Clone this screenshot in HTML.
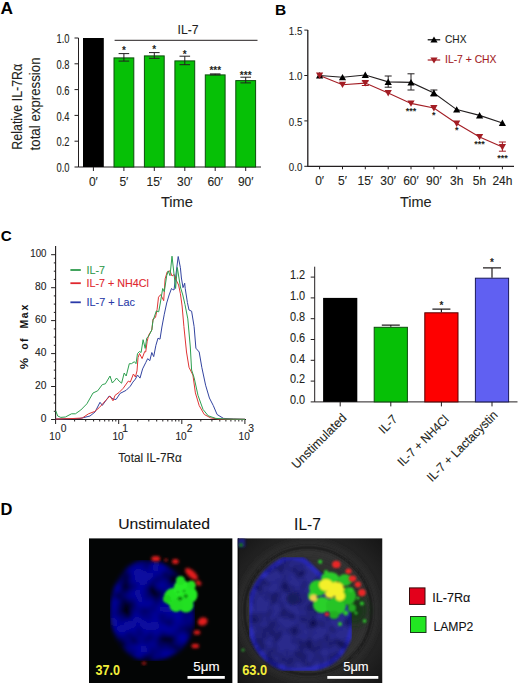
<!DOCTYPE html>
<html><head><meta charset="utf-8"><style>html,body{margin:0;padding:0;background:#fff;}svg{display:block;}</style></head>
<body>
<svg width="520" height="685" viewBox="0 0 520 685" font-family='"Liberation Sans", sans-serif'>
<rect width="520" height="685" fill="#fff"/>
<text x="0.5" y="14.2" font-size="17.3" text-anchor="start" fill="#000" font-weight="bold" >A</text>
<path d="M78.5 38.0V167.0H261" stroke="#231f20" stroke-width="1" fill="none"/>
<path d="M74.5 167.0H78.5" stroke="#231f20" stroke-width="1"/>
<text x="69.5" y="172.1" font-size="12.6" text-anchor="end" fill="#231f20" font-weight="normal" textLength="13" lengthAdjust="spacingAndGlyphs" stroke="#231f20" stroke-width="0.1" >0.0</text>
<path d="M74.5 141.2H78.5" stroke="#231f20" stroke-width="1"/>
<text x="69.5" y="146.29999999999998" font-size="12.6" text-anchor="end" fill="#231f20" font-weight="normal" textLength="13" lengthAdjust="spacingAndGlyphs" stroke="#231f20" stroke-width="0.1" >0.2</text>
<path d="M74.5 115.4H78.5" stroke="#231f20" stroke-width="1"/>
<text x="69.5" y="120.5" font-size="12.6" text-anchor="end" fill="#231f20" font-weight="normal" textLength="13" lengthAdjust="spacingAndGlyphs" stroke="#231f20" stroke-width="0.1" >0.4</text>
<path d="M74.5 89.6H78.5" stroke="#231f20" stroke-width="1"/>
<text x="69.5" y="94.69999999999999" font-size="12.6" text-anchor="end" fill="#231f20" font-weight="normal" textLength="13" lengthAdjust="spacingAndGlyphs" stroke="#231f20" stroke-width="0.1" >0.6</text>
<path d="M74.5 63.8H78.5" stroke="#231f20" stroke-width="1"/>
<text x="69.5" y="68.89999999999999" font-size="12.6" text-anchor="end" fill="#231f20" font-weight="normal" textLength="13" lengthAdjust="spacingAndGlyphs" stroke="#231f20" stroke-width="0.1" >0.8</text>
<path d="M74.5 38.0H78.5" stroke="#231f20" stroke-width="1"/>
<text x="69.5" y="43.1" font-size="12.6" text-anchor="end" fill="#231f20" font-weight="normal" textLength="13" lengthAdjust="spacingAndGlyphs" stroke="#231f20" stroke-width="0.1" >1.0</text>
<rect x="83.0" y="38.0" width="20.8" height="129.0" fill="#000"/>
<path d="M93.4 167.0V171.0" stroke="#231f20" stroke-width="1"/>
<text x="93.4" y="186" font-size="12" text-anchor="middle" fill="#231f20" font-weight="normal" stroke="#231f20" stroke-width="0.1" >0′</text>
<rect x="114.0" y="57.9" width="19.8" height="109.1" fill="#06c006" stroke="#0d4d0d" stroke-width="1"/>
<path d="M118.6 53.6H129.2M123.9 53.6V61.1M118.6 61.1H129.2" stroke="#231f20" stroke-width="1" fill="none"/>
<text x="123.86000000000001" y="53.9" font-size="10" text-anchor="middle" fill="#231f20" font-weight="bold" >*</text>
<path d="M123.9 167.0V171.0" stroke="#231f20" stroke-width="1"/>
<text x="123.86000000000001" y="186" font-size="12" text-anchor="middle" fill="#231f20" font-weight="normal" stroke="#231f20" stroke-width="0.1" >5′</text>
<rect x="144.4" y="55.9" width="19.8" height="111.1" fill="#06c006" stroke="#0d4d0d" stroke-width="1"/>
<path d="M149.0 52.6H159.6M154.3 52.6V58.3M149.0 58.3H159.6" stroke="#231f20" stroke-width="1" fill="none"/>
<text x="154.32" y="53.0" font-size="10" text-anchor="middle" fill="#231f20" font-weight="bold" >*</text>
<path d="M154.3 167.0V171.0" stroke="#231f20" stroke-width="1"/>
<text x="154.32" y="186" font-size="12" text-anchor="middle" fill="#231f20" font-weight="normal" stroke="#231f20" stroke-width="0.1" >15′</text>
<rect x="174.9" y="60.9" width="19.8" height="106.1" fill="#06c006" stroke="#0d4d0d" stroke-width="1"/>
<path d="M179.5 56.2H190.1M184.8 56.2V64.7M179.5 64.7H190.1" stroke="#231f20" stroke-width="1" fill="none"/>
<text x="184.78" y="58.1" font-size="10" text-anchor="middle" fill="#231f20" font-weight="bold" >*</text>
<path d="M184.8 167.0V171.0" stroke="#231f20" stroke-width="1"/>
<text x="184.78" y="186" font-size="12" text-anchor="middle" fill="#231f20" font-weight="normal" stroke="#231f20" stroke-width="0.1" >30′</text>
<rect x="205.3" y="74.9" width="19.8" height="92.1" fill="#06c006" stroke="#0d4d0d" stroke-width="1"/>
<path d="M209.9 73.9H220.5M215.2 73.9V74.9M209.9 74.9H220.5" stroke="#231f20" stroke-width="1" fill="none"/>
<text x="215.24" y="73.89999999999999" font-size="10" text-anchor="middle" fill="#231f20" font-weight="bold" >***</text>
<path d="M215.2 167.0V171.0" stroke="#231f20" stroke-width="1"/>
<text x="215.24" y="186" font-size="12" text-anchor="middle" fill="#231f20" font-weight="normal" stroke="#231f20" stroke-width="0.1" >60′</text>
<rect x="235.8" y="80.6" width="19.8" height="86.4" fill="#06c006" stroke="#0d4d0d" stroke-width="1"/>
<path d="M240.4 77.2H251.0M245.7 77.2V82.9M240.4 82.9H251.0" stroke="#231f20" stroke-width="1" fill="none"/>
<text x="245.70000000000002" y="79.1" font-size="10" text-anchor="middle" fill="#231f20" font-weight="bold" >***</text>
<path d="M245.7 167.0V171.0" stroke="#231f20" stroke-width="1"/>
<text x="245.70000000000002" y="186" font-size="12" text-anchor="middle" fill="#231f20" font-weight="normal" stroke="#231f20" stroke-width="0.1" >90′</text>
<path d="M114.6 40.3H257.5" stroke="#231f20" stroke-width="1"/>
<text x="188" y="33.5" font-size="13" text-anchor="middle" fill="#231f20" font-weight="normal" textLength="21" lengthAdjust="spacingAndGlyphs" stroke="#231f20" stroke-width="0.1" >IL-7</text>
<text x="176.9" y="206.6" font-size="15.3" text-anchor="middle" fill="#231f20" font-weight="normal" textLength="32" lengthAdjust="spacingAndGlyphs" stroke="#231f20" stroke-width="0.1" >Time</text>
<text transform="translate(21.9,106.7) rotate(-90)" font-size="13.8" text-anchor="middle" fill="#231f20" stroke="#231f20" stroke-width="0.1" textLength="86" lengthAdjust="spacingAndGlyphs">Relative IL-7R&#945;</text>
<text transform="translate(39.7,103.9) rotate(-90)" font-size="13.8" text-anchor="middle" fill="#231f20" stroke="#231f20" stroke-width="0.1" textLength="93" lengthAdjust="spacingAndGlyphs">total expression</text>
<text x="275" y="15" font-size="15.5" text-anchor="start" fill="#000" font-weight="bold" >B</text>
<path d="M307.8 30.1V166.3H514" stroke="#231f20" stroke-width="1.3" fill="none"/>
<path d="M304.3 166.3H307.8" stroke="#231f20" stroke-width="1"/>
<text x="302.3" y="171.10000000000002" font-size="10.3" text-anchor="end" fill="#231f20" font-weight="normal" textLength="13.5" lengthAdjust="spacingAndGlyphs" stroke="#231f20" stroke-width="0.1" >0.0</text>
<path d="M304.3 120.9H307.8" stroke="#231f20" stroke-width="1"/>
<text x="302.3" y="125.7" font-size="10.3" text-anchor="end" fill="#231f20" font-weight="normal" textLength="13.5" lengthAdjust="spacingAndGlyphs" stroke="#231f20" stroke-width="0.1" >0.5</text>
<path d="M304.3 75.5H307.8" stroke="#231f20" stroke-width="1"/>
<text x="302.3" y="80.30000000000001" font-size="10.3" text-anchor="end" fill="#231f20" font-weight="normal" textLength="13.5" lengthAdjust="spacingAndGlyphs" stroke="#231f20" stroke-width="0.1" >1.0</text>
<path d="M304.3 30.1H307.8" stroke="#231f20" stroke-width="1"/>
<text x="302.3" y="34.90000000000002" font-size="10.3" text-anchor="end" fill="#231f20" font-weight="normal" textLength="13.5" lengthAdjust="spacingAndGlyphs" stroke="#231f20" stroke-width="0.1" >1.5</text>
<path d="M319.6 166.3V169.3" stroke="#231f20" stroke-width="1"/>
<text x="319.6" y="184.6" font-size="12" text-anchor="middle" fill="#231f20" font-weight="normal" stroke="#231f20" stroke-width="0.1" >0′</text>
<path d="M342.5 166.3V169.3" stroke="#231f20" stroke-width="1"/>
<text x="342.45000000000005" y="184.6" font-size="12" text-anchor="middle" fill="#231f20" font-weight="normal" stroke="#231f20" stroke-width="0.1" >5′</text>
<path d="M365.3 166.3V169.3" stroke="#231f20" stroke-width="1"/>
<text x="365.3" y="184.6" font-size="12" text-anchor="middle" fill="#231f20" font-weight="normal" stroke="#231f20" stroke-width="0.1" >15′</text>
<path d="M388.2 166.3V169.3" stroke="#231f20" stroke-width="1"/>
<text x="388.15000000000003" y="184.6" font-size="12" text-anchor="middle" fill="#231f20" font-weight="normal" stroke="#231f20" stroke-width="0.1" >30′</text>
<path d="M411.0 166.3V169.3" stroke="#231f20" stroke-width="1"/>
<text x="411.0" y="184.6" font-size="12" text-anchor="middle" fill="#231f20" font-weight="normal" stroke="#231f20" stroke-width="0.1" >60′</text>
<path d="M433.9 166.3V169.3" stroke="#231f20" stroke-width="1"/>
<text x="433.85" y="184.6" font-size="12" text-anchor="middle" fill="#231f20" font-weight="normal" stroke="#231f20" stroke-width="0.1" >90′</text>
<path d="M456.7 166.3V169.3" stroke="#231f20" stroke-width="1"/>
<text x="456.70000000000005" y="184.6" font-size="12" text-anchor="middle" fill="#231f20" font-weight="normal" stroke="#231f20" stroke-width="0.1" >3h</text>
<path d="M479.6 166.3V169.3" stroke="#231f20" stroke-width="1"/>
<text x="479.55000000000007" y="184.6" font-size="12" text-anchor="middle" fill="#231f20" font-weight="normal" stroke="#231f20" stroke-width="0.1" >5h</text>
<path d="M502.4 166.3V169.3" stroke="#231f20" stroke-width="1"/>
<text x="502.40000000000003" y="184.6" font-size="12" text-anchor="middle" fill="#231f20" font-weight="normal" stroke="#231f20" stroke-width="0.1" >24h</text>
<text x="415.8" y="206.6" font-size="15.3" text-anchor="middle" fill="#231f20" font-weight="normal" textLength="31.6" lengthAdjust="spacingAndGlyphs" stroke="#231f20" stroke-width="0.1" >Time</text>
<path d="M384.7 76.0H391.7M388.2 76.0V87.2M384.7 87.2H391.7" stroke="#231f20" stroke-width="1" fill="none"/>
<path d="M407.5 73.8H414.5M411.0 73.8V90.0M407.5 90.0H414.5" stroke="#231f20" stroke-width="1" fill="none"/>
<path d="M430.4 90.0H437.4M433.9 90.0V96.0M430.4 96.0H437.4" stroke="#231f20" stroke-width="1" fill="none"/>
<path d="M361.8 80.9H368.8M365.3 80.9V85.5M361.8 85.5H368.8" stroke="#a31d24" stroke-width="1" fill="none"/>
<path d="M498.9 142.0H505.9M502.4 142.0V151.2M498.9 151.2H505.9" stroke="#a31d24" stroke-width="1" fill="none"/>
<polyline points="319.6,75.5 342.5,77.3 365.3,75.0 388.2,81.9 411.0,82.4 433.9,93.0 456.7,109.6 479.6,115.4 502.4,123.0" fill="none" stroke="#231f20" stroke-width="1.1"/>
<polyline points="319.6,75.5 342.5,84.7 365.3,83.1 388.2,93.0 411.0,103.4 433.9,108.0 456.7,123.5 479.6,136.9 502.4,147.0" fill="none" stroke="#a31d24" stroke-width="1.1"/>
<path d="M316.0 78.5L319.6 72.1L323.2 78.5Z" fill="#000"/>
<path d="M338.9 80.3L342.5 73.9L346.1 80.3Z" fill="#000"/>
<path d="M361.7 78.0L365.3 71.6L368.9 78.0Z" fill="#000"/>
<path d="M384.6 84.9L388.2 78.5L391.8 84.9Z" fill="#000"/>
<path d="M407.4 85.4L411.0 79.0L414.6 85.4Z" fill="#000"/>
<path d="M430.2 96.0L433.9 89.6L437.5 96.0Z" fill="#000"/>
<path d="M453.1 112.6L456.7 106.2L460.3 112.6Z" fill="#000"/>
<path d="M476.0 118.4L479.6 112.0L483.2 118.4Z" fill="#000"/>
<path d="M498.8 126.0L502.4 119.6L506.0 126.0Z" fill="#000"/>
<path d="M316.0 72.5L319.6 78.9L323.2 72.5Z" fill="#a31d24"/>
<path d="M338.9 81.7L342.5 88.1L346.1 81.7Z" fill="#a31d24"/>
<path d="M361.7 80.1L365.3 86.5L368.9 80.1Z" fill="#a31d24"/>
<path d="M384.6 90.0L388.2 96.4L391.8 90.0Z" fill="#a31d24"/>
<path d="M407.4 100.4L411.0 106.8L414.6 100.4Z" fill="#a31d24"/>
<path d="M430.2 105.0L433.9 111.4L437.5 105.0Z" fill="#a31d24"/>
<path d="M453.1 120.5L456.7 126.9L460.3 120.5Z" fill="#a31d24"/>
<path d="M476.0 133.9L479.6 140.3L483.2 133.9Z" fill="#a31d24"/>
<path d="M498.8 144.0L502.4 150.4L506.0 144.0Z" fill="#a31d24"/>
<text x="411.0" y="113.6" font-size="9" text-anchor="middle" fill="#231f20" font-weight="bold" >***</text>
<text x="433.85" y="117.5" font-size="9" text-anchor="middle" fill="#231f20" font-weight="bold" >*</text>
<text x="456.70000000000005" y="133" font-size="9" text-anchor="middle" fill="#231f20" font-weight="bold" >*</text>
<text x="479.55000000000007" y="147" font-size="9" text-anchor="middle" fill="#231f20" font-weight="bold" >***</text>
<text x="502.40000000000003" y="161" font-size="9" text-anchor="middle" fill="#231f20" font-weight="bold" >***</text>
<path d="M427.7 39.8H440.2" stroke="#000" stroke-width="1.2"/>
<path d="M430.4 42.5L434 36.4L437.6 42.5Z" fill="#000"/>
<text x="445" y="43" font-size="11" text-anchor="start" fill="#231f20" font-weight="normal" textLength="21.5" lengthAdjust="spacingAndGlyphs" stroke="#231f20" stroke-width="0.1" >CHX</text>
<path d="M427.7 60H440.2" stroke="#a31d24" stroke-width="1.2"/>
<path d="M430.4 57.5L434 63.6L437.6 57.5Z" fill="#a31d24"/>
<text x="445" y="63.3" font-size="11" text-anchor="start" fill="#a31d24" font-weight="normal" textLength="51.5" lengthAdjust="spacingAndGlyphs" stroke="#a31d24" stroke-width="0.1" >IL-7 + CHX</text>
<text x="0.8" y="241.2" font-size="15.2" text-anchor="start" fill="#000" font-weight="bold" >C</text>
<path d="M55.6 246V419.5H246" stroke="#231f20" stroke-width="1.1" fill="none"/>
<path d="M51.1 419.5H55.6" stroke="#231f20" stroke-width="1"/>
<text x="46.5" y="421.5" font-size="10.5" text-anchor="end" fill="#222" font-weight="normal" textLength="5.7" lengthAdjust="spacingAndGlyphs" stroke="#222" stroke-width="0.1" >0</text>
<path d="M53.800000000000004 411.3H55.6" stroke="#231f20" stroke-width="1"/>
<path d="M53.800000000000004 403.0H55.6" stroke="#231f20" stroke-width="1"/>
<path d="M53.800000000000004 394.8H55.6" stroke="#231f20" stroke-width="1"/>
<path d="M51.1 386.5H55.6" stroke="#231f20" stroke-width="1"/>
<text x="46.5" y="388.54" font-size="10.5" text-anchor="end" fill="#222" font-weight="normal" textLength="11.4" lengthAdjust="spacingAndGlyphs" stroke="#222" stroke-width="0.1" >20</text>
<path d="M53.800000000000004 378.3H55.6" stroke="#231f20" stroke-width="1"/>
<path d="M53.800000000000004 370.1H55.6" stroke="#231f20" stroke-width="1"/>
<path d="M53.800000000000004 361.8H55.6" stroke="#231f20" stroke-width="1"/>
<path d="M51.1 353.6H55.6" stroke="#231f20" stroke-width="1"/>
<text x="46.5" y="355.58" font-size="10.5" text-anchor="end" fill="#222" font-weight="normal" textLength="11.4" lengthAdjust="spacingAndGlyphs" stroke="#222" stroke-width="0.1" >40</text>
<path d="M53.800000000000004 345.3H55.6" stroke="#231f20" stroke-width="1"/>
<path d="M53.800000000000004 337.1H55.6" stroke="#231f20" stroke-width="1"/>
<path d="M53.800000000000004 328.9H55.6" stroke="#231f20" stroke-width="1"/>
<path d="M51.1 320.6H55.6" stroke="#231f20" stroke-width="1"/>
<text x="46.5" y="322.62" font-size="10.5" text-anchor="end" fill="#222" font-weight="normal" textLength="11.4" lengthAdjust="spacingAndGlyphs" stroke="#222" stroke-width="0.1" >60</text>
<path d="M53.800000000000004 312.4H55.6" stroke="#231f20" stroke-width="1"/>
<path d="M53.800000000000004 304.1H55.6" stroke="#231f20" stroke-width="1"/>
<path d="M53.800000000000004 295.9H55.6" stroke="#231f20" stroke-width="1"/>
<path d="M51.1 287.7H55.6" stroke="#231f20" stroke-width="1"/>
<text x="46.5" y="289.65999999999997" font-size="10.5" text-anchor="end" fill="#222" font-weight="normal" textLength="11.4" lengthAdjust="spacingAndGlyphs" stroke="#222" stroke-width="0.1" >80</text>
<path d="M53.800000000000004 279.4H55.6" stroke="#231f20" stroke-width="1"/>
<path d="M53.800000000000004 271.2H55.6" stroke="#231f20" stroke-width="1"/>
<path d="M53.800000000000004 262.9H55.6" stroke="#231f20" stroke-width="1"/>
<path d="M51.1 254.7H55.6" stroke="#231f20" stroke-width="1"/>
<text x="46.5" y="256.70000000000005" font-size="10.5" text-anchor="end" fill="#222" font-weight="normal" textLength="16.2" lengthAdjust="spacingAndGlyphs" stroke="#222" stroke-width="0.1" >100</text>
<path d="M55.6 419.5V424.0" stroke="#231f20" stroke-width="1"/>
<path d="M74.6 419.5V421.5" stroke="#231f20" stroke-width="1"/>
<path d="M85.7 419.5V421.5" stroke="#231f20" stroke-width="1"/>
<path d="M93.6 419.5V421.5" stroke="#231f20" stroke-width="1"/>
<path d="M99.7 419.5V421.5" stroke="#231f20" stroke-width="1"/>
<path d="M104.7 419.5V421.5" stroke="#231f20" stroke-width="1"/>
<path d="M108.9 419.5V421.5" stroke="#231f20" stroke-width="1"/>
<path d="M112.6 419.5V421.5" stroke="#231f20" stroke-width="1"/>
<path d="M115.8 419.5V421.5" stroke="#231f20" stroke-width="1"/>
<path d="M118.7 419.5V424.0" stroke="#231f20" stroke-width="1"/>
<path d="M137.7 419.5V421.5" stroke="#231f20" stroke-width="1"/>
<path d="M148.8 419.5V421.5" stroke="#231f20" stroke-width="1"/>
<path d="M156.7 419.5V421.5" stroke="#231f20" stroke-width="1"/>
<path d="M162.8 419.5V421.5" stroke="#231f20" stroke-width="1"/>
<path d="M167.8 419.5V421.5" stroke="#231f20" stroke-width="1"/>
<path d="M172.0 419.5V421.5" stroke="#231f20" stroke-width="1"/>
<path d="M175.7 419.5V421.5" stroke="#231f20" stroke-width="1"/>
<path d="M178.9 419.5V421.5" stroke="#231f20" stroke-width="1"/>
<path d="M181.8 419.5V424.0" stroke="#231f20" stroke-width="1"/>
<path d="M200.8 419.5V421.5" stroke="#231f20" stroke-width="1"/>
<path d="M211.9 419.5V421.5" stroke="#231f20" stroke-width="1"/>
<path d="M219.8 419.5V421.5" stroke="#231f20" stroke-width="1"/>
<path d="M225.9 419.5V421.5" stroke="#231f20" stroke-width="1"/>
<path d="M230.9 419.5V421.5" stroke="#231f20" stroke-width="1"/>
<path d="M235.1 419.5V421.5" stroke="#231f20" stroke-width="1"/>
<path d="M238.8 419.5V421.5" stroke="#231f20" stroke-width="1"/>
<path d="M242.0 419.5V421.5" stroke="#231f20" stroke-width="1"/>
<path d="M244.9 419.5V424.0" stroke="#231f20" stroke-width="1"/>
<text x="54.9" y="439.8" font-size="10.3" text-anchor="middle" fill="#222" font-weight="normal" textLength="11.2" lengthAdjust="spacingAndGlyphs" stroke="#222" stroke-width="0.1" >10</text>
<text x="60.7" y="431.6" font-size="10.3" text-anchor="start" fill="#222" font-weight="normal" stroke="#222" stroke-width="0.1" >0</text>
<text x="118.0" y="439.8" font-size="10.3" text-anchor="middle" fill="#222" font-weight="normal" textLength="11.2" lengthAdjust="spacingAndGlyphs" stroke="#222" stroke-width="0.1" >10</text>
<text x="122.3" y="431.6" font-size="10.3" text-anchor="start" fill="#222" font-weight="normal" stroke="#222" stroke-width="0.1" >1</text>
<text x="181.10000000000002" y="439.8" font-size="10.3" text-anchor="middle" fill="#222" font-weight="normal" textLength="11.2" lengthAdjust="spacingAndGlyphs" stroke="#222" stroke-width="0.1" >10</text>
<text x="186.8" y="431.6" font-size="10.3" text-anchor="start" fill="#222" font-weight="normal" stroke="#222" stroke-width="0.1" >2</text>
<text x="244.20000000000002" y="439.8" font-size="10.3" text-anchor="middle" fill="#222" font-weight="normal" textLength="11.2" lengthAdjust="spacingAndGlyphs" stroke="#222" stroke-width="0.1" >10</text>
<text x="248.3" y="431.6" font-size="10.3" text-anchor="start" fill="#222" font-weight="normal" stroke="#222" stroke-width="0.1" >3</text>
<text x="150" y="462.3" font-size="12" text-anchor="middle" fill="#231f20" font-weight="normal" textLength="63.5" lengthAdjust="spacingAndGlyphs" stroke="#231f20" stroke-width="0.1" >Total IL-7R&#945;</text>
<text transform="translate(28.4,369.1) rotate(-90)" font-size="10.5" font-weight="bold" fill="#111" textLength="11.1" lengthAdjust="spacingAndGlyphs">%</text>
<text transform="translate(28.4,349.7) rotate(-90)" font-size="10.5" font-weight="bold" fill="#111" textLength="11.1" lengthAdjust="spacing">of</text>
<text transform="translate(28.4,328.6) rotate(-90)" font-size="10.5" font-weight="bold" fill="#111" textLength="23.9" lengthAdjust="spacing">Max</text>
<path d="M70.4 270H80.8" stroke="#2e9a4c" stroke-width="1.8"/>
<text x="86.5" y="273.5" font-size="11" text-anchor="start" fill="#2e9a4c" font-weight="normal" textLength="18.5" lengthAdjust="spacingAndGlyphs" stroke="#2e9a4c" stroke-width="0.1" >IL-7</text>
<path d="M70.4 283.2H80.8" stroke="#e0272e" stroke-width="1.8"/>
<text x="86.5" y="286.7" font-size="11" text-anchor="start" fill="#e0272e" font-weight="normal" textLength="62.4" lengthAdjust="spacingAndGlyphs" stroke="#e0272e" stroke-width="0.1" >IL-7 + NH4Cl</text>
<path d="M70.4 302.3H80.8" stroke="#2a3aa8" stroke-width="1.8"/>
<text x="86.5" y="305.8" font-size="11" text-anchor="start" fill="#2a3aa8" font-weight="normal" textLength="48.5" lengthAdjust="spacingAndGlyphs" stroke="#2a3aa8" stroke-width="0.1" >IL-7 + Lac</text>
<polyline points="55.8,419 80,418.5 90,416 95,412 100,402.3 102.3,405.4 109.2,396 113,399 116,399.5 120.1,393.4 126.2,390.3 130.3,386.2 132.9,382.1 135.4,379.1 137.5,375 140,378.1 142.6,368.9 145.7,362.7 147.7,358.6 149.8,360.7 151.8,352.5 153.7,356.6 155.9,345.3 158,338.2 160,339.2 161.9,327 164.3,314.2 166.7,303 169.1,295 171.5,288.5 172.5,289.4 174,290 176,274 178.2,256.5 180.4,267.7 181.4,278 183,287.6 184.7,283.2 185.2,288.3 187.4,302.5 189,310 191.6,311.2 194.1,326.5 195.9,348.2 199.2,352 201.8,367.3 205.6,385.2 209.4,398 213.3,405.6 217.1,414.5 223.5,418.4 233.7,419 245,419.3" fill="none" stroke="#3344a0" stroke-width="1" stroke-linejoin="round"/>
<polyline points="55.8,419 73,418.5 82.3,418 88.5,413.8 94.6,411.5 99.2,407.7 105.4,400.8 110,396 113,400.8 115,395.4 119.1,392.4 123.2,388.3 128.3,381.1 130.3,382.1 133.4,374 135.4,377 137,370.9 138,357.6 139.5,353.5 142.1,358.6 144.7,351.5 145.7,352 147.2,341.2 148.7,335.1 151.8,330 153,319 155.5,317.4 157.1,309.4 158.5,297.2 160.7,294.6 163.7,300.7 165.1,278.9 167.2,271.9 170,270.9 172,276 174.2,274.5 176,279.7 178.6,285 180.4,293.7 182.1,306 183.9,326.5 186.5,352 189,367.3 192.9,375 195.4,392.9 199.2,405.6 204.3,414.5 210.7,417.9 218.4,419 245,419.3" fill="none" stroke="#e03535" stroke-width="1" stroke-linejoin="round"/>
<polyline points="55.8,411 57.7,416 60.8,417.4 65.4,417 71.5,413.8 75.4,413.8 80.8,410 86.9,403.8 93,393 97.7,390.8 102.3,384.6 105.4,383.8 110,376 112.3,383 115,380.1 116.5,378 119.1,381.1 121.6,383.2 124.2,373 126.2,376 129.3,363.7 131.4,363.7 134.4,361.7 136,363.7 137.5,353.5 139.5,351.5 141.1,352.5 143.1,339.7 145.2,348.4 146.7,338.2 148.7,336.1 151.8,330 153,320.6 156.3,311 158.7,311.8 160.3,303 162.7,288.5 164.3,291.7 166.7,275.7 168.3,270.9 170,275.7 172,256.2 174,274 175.6,288.5 177.3,267.5 178.5,275 180.4,287 182.8,295 185,304.6 187.8,318.9 190.3,347 191.6,370 194.1,377.6 198,395.4 203,409.4 208.2,415.8 215.8,418.4 226,419 245,419.3" fill="none" stroke="#2ea050" stroke-width="1" stroke-linejoin="round"/>
<path d="M314.7 266.7V401.9H517.5" stroke="#231f20" stroke-width="1" fill="none"/>
<path d="M310.7 401.9H314.7" stroke="#231f20" stroke-width="1"/>
<text x="305.2" y="404.2" font-size="12.6" text-anchor="end" fill="#231f20" font-weight="normal" textLength="15.2" lengthAdjust="spacingAndGlyphs" stroke="#231f20" stroke-width="0.1" >0.0</text>
<path d="M310.7 381.1H314.7" stroke="#231f20" stroke-width="1"/>
<text x="305.2" y="383.4" font-size="12.6" text-anchor="end" fill="#231f20" font-weight="normal" textLength="15.2" lengthAdjust="spacingAndGlyphs" stroke="#231f20" stroke-width="0.1" >0.2</text>
<path d="M310.7 360.3H314.7" stroke="#231f20" stroke-width="1"/>
<text x="305.2" y="362.59999999999997" font-size="12.6" text-anchor="end" fill="#231f20" font-weight="normal" textLength="15.2" lengthAdjust="spacingAndGlyphs" stroke="#231f20" stroke-width="0.1" >0.4</text>
<path d="M310.7 339.5H314.7" stroke="#231f20" stroke-width="1"/>
<text x="305.2" y="341.8" font-size="12.6" text-anchor="end" fill="#231f20" font-weight="normal" textLength="15.2" lengthAdjust="spacingAndGlyphs" stroke="#231f20" stroke-width="0.1" >0.6</text>
<path d="M310.7 318.7H314.7" stroke="#231f20" stroke-width="1"/>
<text x="305.2" y="321.0" font-size="12.6" text-anchor="end" fill="#231f20" font-weight="normal" textLength="15.2" lengthAdjust="spacingAndGlyphs" stroke="#231f20" stroke-width="0.1" >0.8</text>
<path d="M310.7 297.9H314.7" stroke="#231f20" stroke-width="1"/>
<text x="305.2" y="300.2" font-size="12.6" text-anchor="end" fill="#231f20" font-weight="normal" textLength="15.2" lengthAdjust="spacingAndGlyphs" stroke="#231f20" stroke-width="0.1" >1.0</text>
<path d="M310.7 277.1H314.7" stroke="#231f20" stroke-width="1"/>
<text x="305.2" y="279.4" font-size="12.6" text-anchor="end" fill="#231f20" font-weight="normal" textLength="15.2" lengthAdjust="spacingAndGlyphs" stroke="#231f20" stroke-width="0.1" >1.2</text>
<rect x="323.1" y="297.9" width="34.2" height="104.0" fill="#000"/>
<path d="M340.2 401.9V406.4" stroke="#231f20" stroke-width="1"/>
<text transform="translate(347.4,418.7) rotate(-45)" font-size="12.6" text-anchor="end" fill="#231f20" stroke="#231f20" stroke-width="0.1" textLength="71.8" lengthAdjust="spacingAndGlyphs">Unstimulated</text>
<rect x="374.2" y="327.3" width="33.2" height="74.6" fill="#06c006" stroke="#0d4d0d" stroke-width="1"/>
<path d="M381.8 325.1H399.8M390.8 325.1V326.8" stroke="#231f20" stroke-width="1.2" fill="none"/>
<path d="M390.8 401.9V406.4" stroke="#231f20" stroke-width="1"/>
<text transform="translate(398.3,420.1) rotate(-45)" font-size="12.6" text-anchor="end" fill="#231f20" stroke="#231f20" stroke-width="0.1" textLength="20.5" lengthAdjust="spacingAndGlyphs">IL-7</text>
<rect x="424.8" y="312.8" width="33.2" height="89.1" fill="#fe0000" stroke="#5a0000" stroke-width="1"/>
<path d="M432.4 309.2H450.4M441.4 309.2V312.3" stroke="#231f20" stroke-width="1.2" fill="none"/>
<text x="441.4" y="308.70000000000005" font-size="10" text-anchor="middle" fill="#231f20" font-weight="bold" >*</text>
<path d="M441.4 401.9V406.4" stroke="#231f20" stroke-width="1"/>
<text transform="translate(449.6,420.3) rotate(-45)" font-size="12.6" text-anchor="end" fill="#231f20" stroke="#231f20" stroke-width="0.1" textLength="66.2" lengthAdjust="spacingAndGlyphs">IL-7 + NH4Cl</text>
<rect x="475.4" y="278.2" width="33.2" height="123.7" fill="#6060f2" stroke="#1a1a5a" stroke-width="1"/>
<path d="M483.0 267.9H501.0M492.0 267.9V277.7" stroke="#231f20" stroke-width="1.2" fill="none"/>
<text x="492.0" y="266.3" font-size="10" text-anchor="middle" fill="#231f20" font-weight="bold" >*</text>
<path d="M492.0 401.9V406.4" stroke="#231f20" stroke-width="1"/>
<text transform="translate(498.5,415.9) rotate(-45)" font-size="12.6" text-anchor="end" fill="#231f20" stroke="#231f20" stroke-width="0.1" textLength="94.2" lengthAdjust="spacingAndGlyphs">IL-7 + Lactacystin</text>
<text x="0.5" y="514.5" font-size="16.5" text-anchor="start" fill="#000" font-weight="bold" >D</text>
<text x="118.2" y="529.2" font-size="15.5" text-anchor="start" fill="#111" font-weight="normal" textLength="91.7" lengthAdjust="spacingAndGlyphs" stroke="#111" stroke-width="0.1" >Unstimulated</text>
<text x="294.1" y="529.6" font-size="16" text-anchor="start" fill="#111" font-weight="normal" textLength="26.7" lengthAdjust="spacingAndGlyphs" stroke="#111" stroke-width="0.1" >IL-7</text>
<defs>
<filter id="b1" x="-50%" y="-50%" width="200%" height="200%"><feGaussianBlur stdDeviation="1.6"/></filter>
<filter id="b2" x="-50%" y="-50%" width="200%" height="200%"><feGaussianBlur stdDeviation="0.9"/></filter>
<filter id="b3" x="-50%" y="-50%" width="200%" height="200%"><feGaussianBlur stdDeviation="4"/></filter>
<filter id="b5" x="-50%" y="-50%" width="200%" height="200%"><feGaussianBlur stdDeviation="6"/></filter>
<filter id="tex" x="0" y="0" width="100%" height="100%">
 <feTurbulence type="fractalNoise" baseFrequency="0.075" numOctaves="2" seed="7" result="n"/>
 <feColorMatrix in="n" type="matrix" values="0 0 0 0 0  0 0 0 0 0  0 0 0 0 0  1.6 0 0 0 -0.62" result="a"/>
 <feComposite in="a" in2="SourceGraphic" operator="in" result="d"/>
 <feMerge><feMergeNode in="SourceGraphic"/><feMergeNode in="d"/></feMerge>
 <feGaussianBlur stdDeviation="0.8"/>
</filter>
<filter id="tex1" x="0" y="0" width="100%" height="100%">
 <feTurbulence type="fractalNoise" baseFrequency="0.06" numOctaves="3" seed="11" result="n"/>
 <feColorMatrix in="n" type="matrix" values="0 0 0 0 0  0 0 0 0 0  0 0 0 0 0  2.4 0 0 0 -0.85" result="a"/>
 <feComposite in="a" in2="SourceGraphic" operator="in" result="d"/>
 <feMerge><feMergeNode in="SourceGraphic"/><feMergeNode in="d"/></feMerge>
 <feGaussianBlur stdDeviation="2"/>
</filter>
<clipPath id="c1"><rect x="89" y="538.2" width="143.6" height="144.8"/></clipPath>
<clipPath id="c2"><rect x="237.5" y="538.2" width="145" height="144.8"/></clipPath>
<radialGradient id="g2bg" cx="0.5" cy="0.5" r="0.7"><stop offset="0" stop-color="#303030"/><stop offset="0.75" stop-color="#222"/><stop offset="1" stop-color="#151515"/></radialGradient>
</defs>
<g clip-path="url(#c1)"><rect x="89" y="538.2" width="143.6" height="144.8" fill="#030505"/>
<path d="M141.0 560.5C146.0 559.7 153.2 560.8 158.0 562.0C162.8 563.2 166.0 565.0 170.0 568.0C174.0 571.0 178.5 575.3 182.0 580.0C185.5 584.7 189.0 590.7 191.0 596.0C193.0 601.3 193.6 606.8 194.0 612.0C194.4 617.2 194.5 622.0 193.3 627.0C192.1 632.0 189.6 637.8 187.0 642.0C184.4 646.2 181.8 649.2 177.8 652.0C173.8 654.8 168.1 657.6 163.0 659.0C157.9 660.4 152.2 661.0 147.0 660.5C141.8 660.0 136.7 659.1 132.0 656.0C127.3 652.9 122.4 647.2 119.0 642.0C115.6 636.8 112.9 630.8 111.5 625.0C110.1 619.2 110.2 612.7 110.5 607.0C110.8 601.3 111.6 595.7 113.0 591.0C114.4 586.3 116.5 583.0 119.0 579.0C121.5 575.0 124.3 570.1 128.0 567.0C131.7 563.9 136.0 561.3 141.0 560.5Z" fill="#0c0ca0" filter="url(#tex1)"/>
<g filter="url(#b2)">
<circle cx="173" cy="597" r="9" fill="#22e422"/>
<circle cx="182" cy="588.5" r="8.5" fill="#26ec26"/>
<circle cx="189.5" cy="595" r="8" fill="#24e824"/>
<circle cx="186" cy="605" r="7.5" fill="#22e022"/>
<circle cx="176" cy="605.5" r="6.5" fill="#20dc20"/>
<circle cx="180.5" cy="580.5" r="4.5" fill="#22e022"/>
<circle cx="191.5" cy="585" r="4.5" fill="#22e022"/>
<circle cx="167" cy="599" r="4" fill="#1ed41e"/>
<ellipse cx="180" cy="598.4" rx="2.4" ry="2" fill="#0e7a0e"/>
<ellipse cx="185.8" cy="596.1" rx="2" ry="1.8" fill="#0e7a0e"/>
<ellipse cx="184" cy="591" rx="1.4" ry="1.2" fill="#149a14"/>
<ellipse cx="178" cy="592" rx="1.2" ry="1" fill="#18a818"/>
</g>
<ellipse cx="155.8" cy="558.7" rx="4.5" ry="2.6" transform="rotate(0 155.8 558.7)" fill="#e41c1c" filter="url(#b1)"/>
<ellipse cx="175.4" cy="561.5" rx="3.4" ry="2.5" transform="rotate(0 175.4 561.5)" fill="#e41c1c" filter="url(#b1)"/>
<ellipse cx="191.5" cy="574" rx="8" ry="3.6" transform="rotate(42 191.5 574)" fill="#e41c1c" filter="url(#b1)"/>
<ellipse cx="198.5" cy="583" rx="3" ry="2.2" transform="rotate(40 198.5 583)" fill="#e41c1c" filter="url(#b1)"/>
<ellipse cx="202.7" cy="621.5" rx="5" ry="4" transform="rotate(-20 202.7 621.5)" fill="#e41c1c" filter="url(#b1)"/>
<ellipse cx="197" cy="632.4" rx="3.3" ry="2.2" transform="rotate(0 197 632.4)" fill="#e41c1c" filter="url(#b1)"/>
<ellipse cx="195.3" cy="646" rx="3.8" ry="2.2" transform="rotate(0 195.3 646)" fill="#e41c1c" filter="url(#b1)"/>
<ellipse cx="144" cy="663.3" rx="2" ry="1.3" transform="rotate(0 144 663.3)" fill="#e41c1c" filter="url(#b1)"/>
<ellipse cx="166" cy="560" rx="1.5" ry="1.2" transform="rotate(0 166 560)" fill="#e41c1c" filter="url(#b1)"/>
</g>
<text x="95.4" y="674.6" font-size="14" text-anchor="start" fill="#f2ee3a" font-weight="bold" textLength="24.6" lengthAdjust="spacingAndGlyphs" >37.0</text>
<text x="193.3" y="670.8" font-size="12" text-anchor="start" fill="#fff" font-weight="normal" textLength="26.2" lengthAdjust="spacingAndGlyphs" stroke="#fff" stroke-width="0.1" >5&#956;m</text>
<rect x="187.5" y="676" width="37.3" height="2.8" fill="#fff"/>
<g clip-path="url(#c2)"><rect x="237.5" y="538.2" width="145" height="144.8" fill="url(#g2bg)"/>
<rect x="237.5" y="538.2" width="1.6" height="144.8" fill="#0a0a0a"/>
<rect x="238" y="538" width="7" height="9" fill="#1a1a80" filter="url(#b1)"/>
<circle cx="308" cy="611" r="68" fill="#363636" filter="url(#b3)"/>
<circle cx="308" cy="611" r="63.5" fill="none" stroke="#141414" stroke-width="3.2" filter="url(#b1)"/>
<circle cx="308" cy="611" r="58" fill="#2e2e2e" filter="url(#b5)"/>
<ellipse cx="355" cy="610" rx="12" ry="14" fill="#183818" filter="url(#b3)"/>
<path d="M290.0 557.5C293.7 557.3 299.0 558.0 303.0 560.0C307.0 562.0 309.5 565.4 314.0 569.6C318.5 573.8 324.8 579.1 330.0 585.0C335.2 590.9 341.4 597.8 345.0 605.0C348.6 612.2 351.7 620.5 351.4 628.0C351.1 635.5 346.4 644.3 343.0 650.0C339.6 655.7 336.4 658.8 331.2 662.0C326.0 665.2 318.2 667.6 312.0 669.0C305.8 670.4 300.0 671.4 293.7 670.6C287.4 669.8 279.8 667.4 274.0 664.0C268.2 660.6 262.8 655.6 259.0 650.4C255.2 645.2 252.6 638.8 251.0 633.0C249.4 627.2 249.5 621.6 249.5 615.8C249.5 610.0 250.0 602.8 251.0 598.0C252.0 593.2 253.7 590.5 255.5 587.0C257.3 583.5 259.4 580.2 262.0 577.0C264.6 573.8 267.8 570.7 271.0 568.0C274.2 565.3 277.8 562.8 281.0 561.0C284.2 559.2 286.3 557.7 290.0 557.5Z" fill="#2a2a8c" stroke="#2c2ab4" stroke-width="5" filter="url(#tex)"/>
<ellipse cx="292.7" cy="598.5" rx="6.5" ry="6" fill="#151a60" filter="url(#b1)"/>
<g filter="url(#b2)">
<ellipse cx="318" cy="588" rx="9" ry="8" fill="#28c828"/>
<ellipse cx="322" cy="605" rx="9" ry="8" fill="#2ad02a"/>
<ellipse cx="336" cy="606" rx="10" ry="9" fill="#26c426"/>
<ellipse cx="348" cy="596" rx="8" ry="9" fill="#24b824"/>
<ellipse cx="345" cy="580" rx="7" ry="6" fill="#28c028"/>
<ellipse cx="330" cy="578" rx="9" ry="6" fill="#2ccc2c"/>
<ellipse cx="334" cy="615" rx="5" ry="4" fill="#22b022"/>
<ellipse cx="352" cy="608" rx="4" ry="4" fill="#20a820"/>
<ellipse cx="312" cy="596" rx="4" ry="5" fill="#2ad02a"/>
<circle cx="320.2" cy="561.7" r="2" fill="#2ccc2c"/>
<circle cx="351.1" cy="590" r="2.5" fill="#2ccc2c"/>
<circle cx="345.8" cy="612.9" r="2.5" fill="#2ccc2c"/>
<circle cx="361.9" cy="603.5" r="2" fill="#2ccc2c"/>
<circle cx="364.6" cy="621" r="1.8" fill="#2ccc2c"/>
<circle cx="326" cy="572" r="2" fill="#2ccc2c"/>
<circle cx="340" cy="624" r="2" fill="#2ccc2c"/>
<circle cx="356" cy="613" r="1.5" fill="#2ccc2c"/>
<circle cx="358" cy="598" r="1.5" fill="#2ccc2c"/>
<ellipse cx="326" cy="585" rx="7" ry="6" fill="#f4f02a"/>
<ellipse cx="336" cy="589" rx="8" ry="7" fill="#f4f02a"/>
<ellipse cx="340" cy="596" rx="5" ry="5" fill="#f4f02a"/>
<ellipse cx="330" cy="594" rx="5" ry="4" fill="#f4f02a"/>
<ellipse cx="313.5" cy="598" rx="3.5" ry="3.5" fill="#f0d050"/></g>
<ellipse cx="336.3" cy="564.4" rx="4.2" ry="3.6" fill="#e82828" filter="url(#b2)"/>
<ellipse cx="348.5" cy="571.2" rx="3" ry="2.6" fill="#e82828" filter="url(#b2)"/>
<ellipse cx="352.5" cy="578.6" rx="3.8" ry="3.2" fill="#e82828" filter="url(#b2)"/>
<ellipse cx="357.9" cy="584.6" rx="3.2" ry="3" fill="#e82828" filter="url(#b2)"/>
<ellipse cx="361.9" cy="592.7" rx="3.8" ry="3.6" fill="#e82828" filter="url(#b2)"/>
<ellipse cx="326.9" cy="614.2" rx="2.2" ry="2" fill="#e82828" filter="url(#b2)"/>
<circle cx="243" cy="650" r="1.5" fill="#2c9c2c" filter="url(#b2)"/><circle cx="241" cy="545" r="2" fill="#1c7c1c" filter="url(#b2)"/>
</g>
<text x="242.2" y="674.6" font-size="14" text-anchor="start" fill="#f2ee3a" font-weight="bold" textLength="25" lengthAdjust="spacingAndGlyphs" >63.0</text>
<text x="343.2" y="670.8" font-size="12" text-anchor="start" fill="#fff" font-weight="normal" textLength="25.5" lengthAdjust="spacingAndGlyphs" stroke="#fff" stroke-width="0.1" >5&#956;m</text>
<rect x="327.3" y="676" width="51" height="2.8" fill="#fff"/>
<rect x="409.5" y="587.9" width="15.5" height="16.5" fill="#e3001b" stroke="#3a0a0a" stroke-width="1"/>
<rect x="410.5" y="616.5" width="15.5" height="16" fill="#22e622" stroke="#1a3a1a" stroke-width="1"/>
<text x="432.3" y="602.2" font-size="12.5" text-anchor="start" fill="#111" font-weight="normal" textLength="38" lengthAdjust="spacingAndGlyphs" stroke="#111" stroke-width="0.1" >IL-7R&#945;</text>
<text x="433.4" y="631.4" font-size="12.5" text-anchor="start" fill="#111" font-weight="normal" textLength="40" lengthAdjust="spacingAndGlyphs" stroke="#111" stroke-width="0.1" >LAMP2</text>
</svg>
</body></html>
